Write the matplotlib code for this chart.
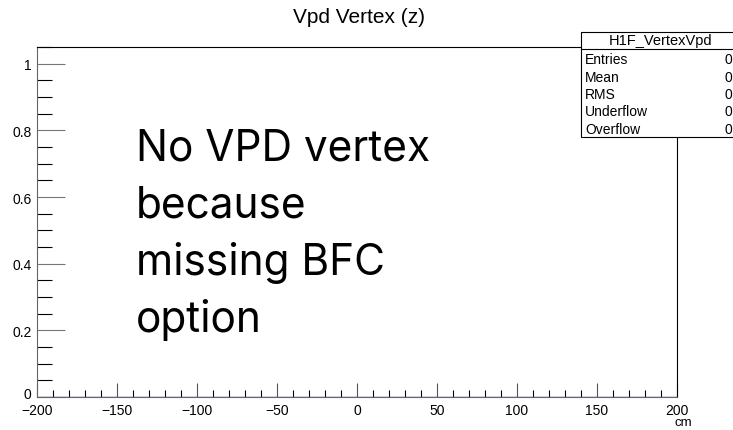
import numpy as np
import matplotlib.pyplot as plt
import matplotlib.transforms as mtransforms
from matplotlib.patches import Rectangle
from matplotlib.ticker import MultipleLocator

# Data: the histogram is empty
vertex_z = []
x_range = (-200, 200)
y_range = (0, 1.05)
stat_names = ['Entries', 'Mean', 'RMS', 'Underflow', 'Overflow']
stat_values = ['0', '0', '0', '0', '0']
hist_name = 'H1F_VertexVpd'
note_lines = ['No VPD vertex', 'because', 'missing BFC', 'option']

plt.rcParams['font.family'] = ['Liberation Sans', 'DejaVu Sans']

W, H = 733, 431
fig = plt.figure(figsize=(W/100, H/100), dpi=100)
ax = fig.add_axes([37/W, 1-398/H, (677-37)/W, (398-48)/H])

ax.hist(vertex_z, bins=100, range=x_range, histtype='step', color='#1f4e9c', linewidth=1)
ax.set_xlim(*x_range)
ax.set_ylim(*y_range)

ax.xaxis.set_major_locator(MultipleLocator(50))
ax.xaxis.set_minor_locator(MultipleLocator(10))
ax.yaxis.set_major_locator(MultipleLocator(0.2))
ax.yaxis.set_minor_locator(MultipleLocator(0.05))
ax.yaxis.set_major_formatter(plt.FuncFormatter(lambda v, p: '%g' % round(v, 2)))
ax.tick_params(axis='x', which='major', direction='in', length=10, width=0.8,
               color='#555555', labelsize=10, pad=4)
ax.tick_params(axis='x', which='minor', direction='in', length=5, width=0.8, color='black')
ax.tick_params(axis='y', which='major', direction='in', length=20, width=0.8,
               color='#777777', labelsize=10, pad=4)
ax.tick_params(axis='y', which='minor', direction='in', length=11, width=0.8, color='black')
for s in ax.spines.values():
    s.set_linewidth(0.8)
ax.spines['left'].set_color('#666666')
ax.spines['bottom'].set_color('#666666')

# nudge the "0" y label up a little, as ROOT does
fig.canvas.draw()
for lbl in ax.get_yticklabels():
    if lbl.get_text() == '0':
        lbl.set_transform(lbl.get_transform() +
                          mtransforms.ScaledTranslation(0, 3/72, fig.dpi_scale_trans))

fig.text(359/W, 1-23/H, 'Vpd Vertex (z)', ha='center', va='baseline', fontsize=15)
fig.text(683/W, 1-423/H, 'cm', ha='center', va='center', fontsize=9.5)

# Annotation
for i, base in enumerate([161, 218, 275, 332]):
    fig.text(136/W, 1-base/H, note_lines[i], ha='left', va='baseline',
             fontsize=30.5, family=['Inter', 'DejaVu Sans'])

# Stats box
x0, y_top, y_bot = 581/W, 1-33/H, 1-138/H
fig.add_artist(Rectangle((x0, y_bot), 1.0, y_top-y_bot, transform=fig.transFigure,
                         facecolor='white', edgecolor='black', linewidth=0.8, zorder=5))
head_bot = 1-50/H
fig.add_artist(plt.Line2D([x0, 1.0], [head_bot, head_bot], transform=fig.transFigure,
                          color='black', linewidth=0.8, zorder=6))
fig.text(661/W, 1-41/H, hist_name, ha='center', va='center', fontsize=10.5, zorder=7)
for i, (name, val) in enumerate(zip(stat_names, stat_values)):
    yy = 1-(60+17.5*i)/H
    fig.text(585/W, yy, name, ha='left', va='center', fontsize=10, zorder=7)
    fig.text(732/W, yy, val, ha='right', va='center', fontsize=10, zorder=7)

fig.savefig('out.png', dpi=100)
